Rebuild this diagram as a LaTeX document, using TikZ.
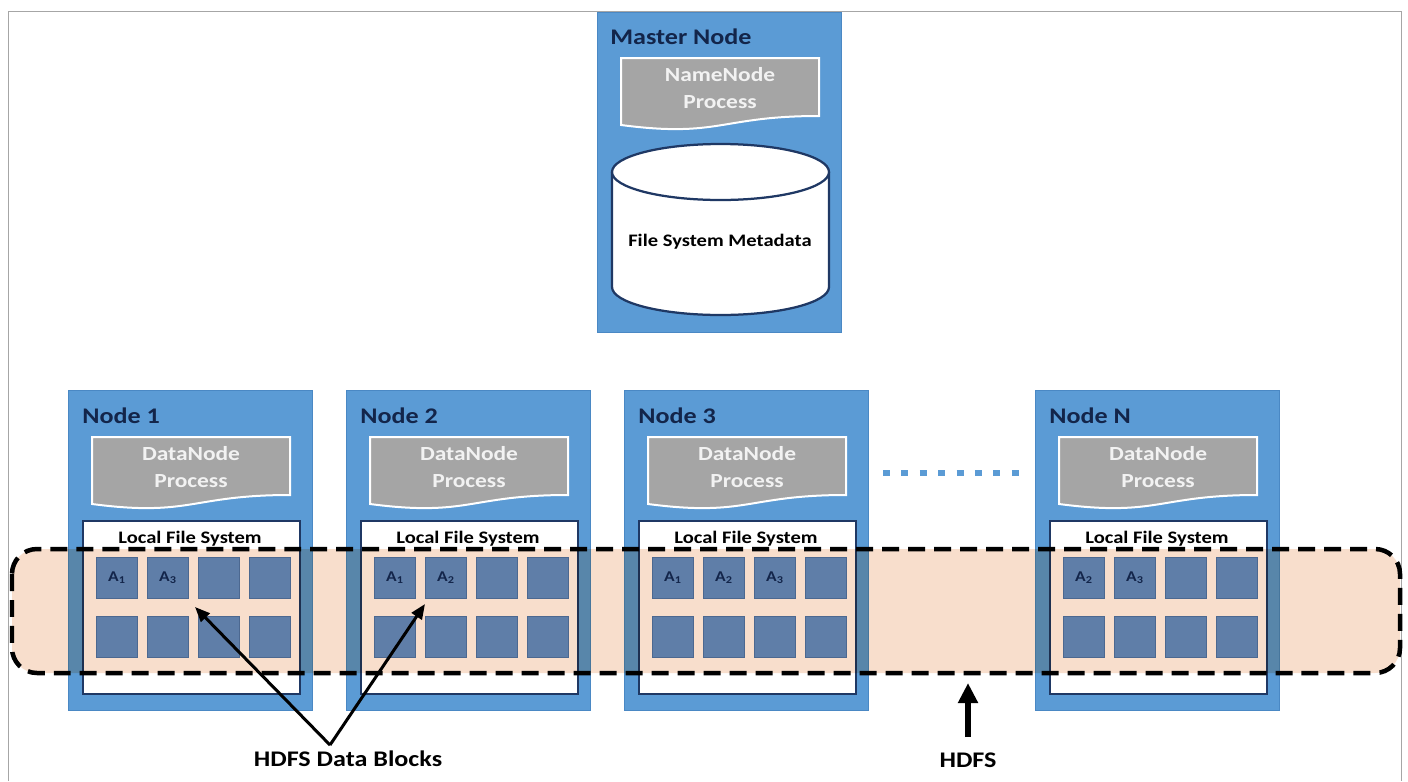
\documentclass[tikz,border=0pt]{standalone}
\usepackage{fontspec}
\setmainfont{Carlito}[FakeStretch=1.17]
\usetikzlibrary{arrows.meta}

\definecolor{nodeblue}{HTML}{5B9BD5}
\definecolor{nodeedge}{HTML}{4A88C4}
\definecolor{titlenavy}{HTML}{13254A}
\definecolor{docgray}{HTML}{A5A5A5}
\definecolor{docwhite}{HTML}{F2F2F2}
\definecolor{fsnavy}{HTML}{1F3864}
\definecolor{blockblue}{HTML}{5F7EA8}
\definecolor{blockedge}{HTML}{4C6890}
\definecolor{peach}{HTML}{F8DECC}
\definecolor{framegray}{HTML}{A6A6A6}

\tikzset{
  nodebox/.style={fill=nodeblue, draw=nodeedge, line width=0.02cm},
  nodetitle/.style={anchor=base west, inner sep=0pt, text=titlenavy, font=\fontsize{12.7}{15}\selectfont\bfseries},
  docshape/.style={fill=docgray, draw=white, line width=0.04cm},
  doctext/.style={align=center, inner sep=0pt, text=docwhite, font=\fontsize{11.4}{15.4}\selectfont\bfseries},
  fsbox/.style={fill=white, draw=fsnavy, line width=0.05cm},
  fstitle/.style={anchor=base, inner sep=0pt, font=\fontsize{10}{12}\selectfont\bfseries},
  metaline/.style={fill=white, draw=fsnavy, line width=0.045cm},
  block/.style={fill=blockblue, draw=blockedge, line width=0.02cm, minimum size=0.82cm, inner sep=0pt, anchor=north west},
  blocklabel/.style={text=titlenavy, inner sep=0pt, font=\fontsize{8.5}{10}\selectfont\bfseries},
  bottomlabel/.style={anchor=base, inner sep=0pt, font=\fontsize{12.7}{15}\selectfont\bfseries},
  pointer/.style={-{Triangle[length=0.3cm,width=0.24cm]}, line width=0.06cm},
}

\begin{document}
\begin{tikzpicture}[x=0.02cm, y=-0.02cm]
    \useasboundingbox (0,0) rectangle (1408,781);

    % Frame
    \draw[framegray, line width=0.02cm] (8,781) -- (8,11) -- (1401,11) -- (1401,781);

    % Master Node
    \draw[nodebox] (597,12) rectangle (841,332);
    \node[nodetitle] (mastertitle) at (610,44) {Master Node};
    \draw[docshape] (621,58) -- (819,58) -- (819,116) .. controls (720,116) and (720,138) .. (621,125) -- cycle;
    \node[doctext] (namenode) at (720,88) {NameNode\\Process};

    % Metadata cylinder
    \draw[metaline] (612,172) -- (612,287) arc[start angle=180, end angle=0, x radius=108.5, y radius=28] -- (829,172);
    \draw[metaline] (720.5,172) ellipse[x radius=108.5, y radius=28];
    \node[fstitle] (metadata) at (720,246) {File System Metadata};

    % Data Nodes
    \foreach \x/\name/\id in {68/Node 1/n1, 346/Node 2/n2, 624/Node 3/n3, 1035/Node N/nN} {
      \draw[nodebox] (\x,390) rectangle ++(244,320);
      \node[nodetitle] (\id title) at (\x+14,423) {\name};
      \draw[docshape] (\x+24,437) -- ++(198,0) -- ++(0,58) .. controls (\x+123,495) and (\x+123,517) .. (\x+24,504) -- cycle;
      \node[doctext] (\id proc) at (\x+123,467) {DataNode\\Process};
      \draw[fsbox] (\x+15,521) rectangle (\x+232,694);
      \node[fstitle] (\id fs) at (\x+122,543) {Local File System};
    }

    % Dots between Node 3 and Node N
    \draw[nodeblue, line width=0.13cm, dash pattern=on 0.14cm off 0.228cm] (883,473) -- (1020,473);

    % HDFS band
    \fill[peach, blend mode=multiply, rounded corners=0.5cm] (12,549) rectangle (1400,673);

    % Blocks
    \foreach \x/\id in {68/n1, 346/n2, 624/n3, 1035/nN} {
      \foreach \k in {1,...,4} {
        \node[block] (\id b\k) at ({\x+28+51*(\k-1)},557) {};
        \node[block] (\id c\k) at ({\x+28+51*(\k-1)},616) {};
      }
    }
    \node[blocklabel] (n1a1) at (n1b1) {A\textsubscript{1}};
    \node[blocklabel] (n1a3) at (n1b2) {A\textsubscript{3}};
    \node[blocklabel] (n2a1) at (n2b1) {A\textsubscript{1}};
    \node[blocklabel] (n2a2) at (n2b2) {A\textsubscript{2}};
    \node[blocklabel] (n3a1) at (n3b1) {A\textsubscript{1}};
    \node[blocklabel] (n3a2) at (n3b2) {A\textsubscript{2}};
    \node[blocklabel] (n3a3) at (n3b3) {A\textsubscript{3}};
    \node[blocklabel] (nNa2) at (nNb1) {A\textsubscript{2}};
    \node[blocklabel] (nNa3) at (nNb2) {A\textsubscript{3}};

    % HDFS border
    \draw[line width=0.09cm, dash pattern=on 0.34cm off 0.18cm, rounded corners=0.5cm] (12,549) rectangle (1400,673);

    % Labels
    \node[bottomlabel] (datablocks) at (348,766) {HDFS Data Blocks};
    \node[bottomlabel] (hdfs) at (968,767) {HDFS};
    \coordinate (hdfsedge) at (968,683);

    \draw[pointer] ([xshift=-0.36cm,yshift=0.1cm]datablocks.north) -- ([xshift=0.12cm,yshift=-0.16cm]n1b2.south east);
    \draw[pointer] ([xshift=-0.36cm,yshift=0.1cm]datablocks.north) -- ([yshift=-0.1cm]n2b2.south west);
    \draw[-{Triangle[length=0.4cm,width=0.38cm]}, line width=0.12cm] ([yshift=0.3cm]hdfs.north) -- (hdfsedge);
\end{tikzpicture}
\end{document}
